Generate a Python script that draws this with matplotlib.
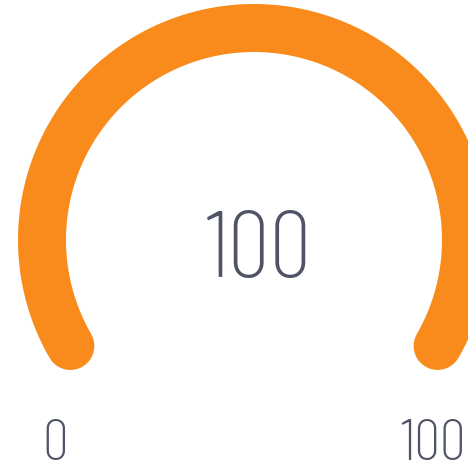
import matplotlib
matplotlib.use("Agg")
import matplotlib.pyplot as plt
import numpy as np

# gauge data
gauge_min = 0
gauge_max = 100
gauge_value = 100
min_label = "0"
max_label = "100"

ORANGE = "#F88B1B"
TEXT = "#4f5566"
FONT = ["Barlow Condensed", "DejaVu Sans"]

W, H = 468, 472
fig = plt.figure(figsize=(W / 100, H / 100), dpi=100)
ax = fig.add_axes([0, 0, 1, 1])
ax.set_xlim(0, W)
ax.set_ylim(H, 0)
ax.set_aspect("equal")
ax.axis("off")

cx, cy, r = 254, 240, 212
start_deg, end_deg = 210, -30

frac = (gauge_value - gauge_min) / (gauge_max - gauge_min)
theta = np.radians(np.linspace(start_deg, start_deg + (end_deg - start_deg) * frac, 300))
ax.plot(cx + r * np.cos(theta), cy - r * np.sin(theta),
        color=ORANGE, linewidth=48 * 0.72, solid_capstyle="round")

ax.text(259, 254, f"{gauge_value}", ha="center", va="center",
        fontsize=68, fontweight=275, color=TEXT, family=FONT)
ax.text(55, 446, min_label, ha="center", va="center",
        fontsize=42, fontweight=275, color=TEXT, family=FONT)
ax.text(433, 446, max_label, ha="center", va="center",
        fontsize=42, fontweight=275, color=TEXT, family=FONT)

fig.savefig("out.png", dpi=100)
